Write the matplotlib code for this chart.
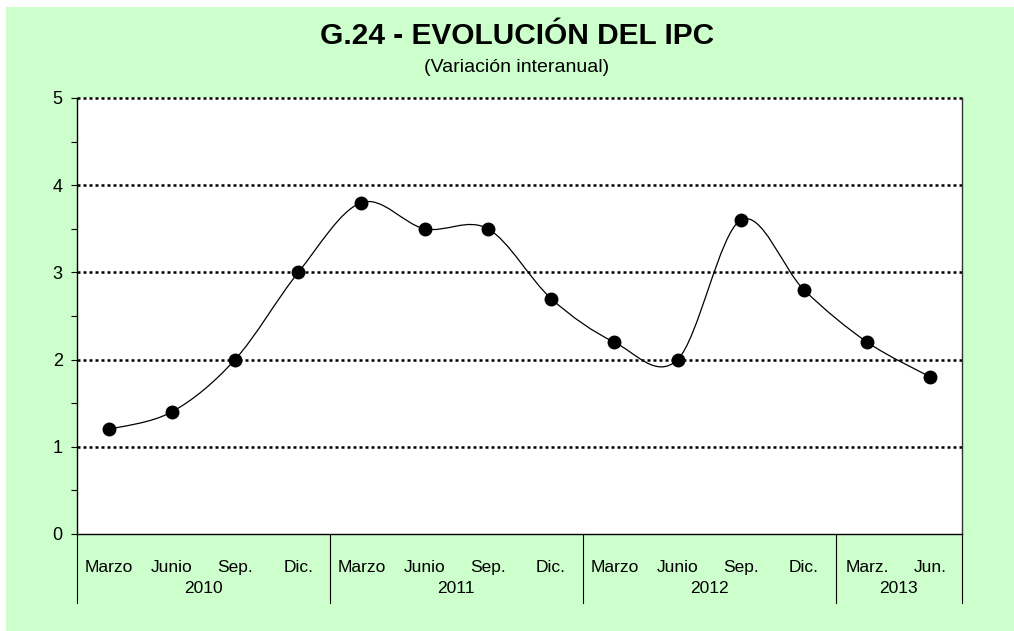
import numpy as np
import matplotlib
matplotlib.use("Agg")
import matplotlib.pyplot as plt
from matplotlib.path import Path
from matplotlib.patches import PathPatch, Rectangle
from matplotlib.transforms import blended_transform_factory

plt.rcParams['font.family'] = ['Liberation Sans', 'DejaVu Sans']

# data
quarters = ['Marzo', 'Junio', 'Sep.', 'Dic.',
            'Marzo', 'Junio', 'Sep.', 'Dic.',
            'Marzo', 'Junio', 'Sep.', 'Dic.',
            'Marz.', 'Jun.']
years = ['2010', '2011', '2012', '2013']
quarters_per_year = [4, 4, 4, 2]
ipc = [1.2, 1.4, 2.0, 3.0, 3.8, 3.5, 3.5, 2.7, 2.2, 2.0, 3.6, 2.8, 2.2, 1.8]

green = '#CCFFCC'

fig = plt.figure(figsize=(10.14, 6.31), dpi=100)
fig.patch.set_facecolor('white')
fig.patches.append(Rectangle((6 / 1014, 0), 1, 1 - 7 / 631, transform=fig.transFigure,
                             facecolor=green, edgecolor='none', zorder=-10))

ax = fig.add_axes([77 / 1014, 1 - 534 / 631, 885 / 1014, 436 / 631])
ax.set_facecolor('white')

n = len(ipc)
x = np.arange(n) + 0.5
y = np.array(ipc)

# smoothed line like Excel (bezier through the points)
pts = np.column_stack([x, y])
ext = np.vstack([pts[0], pts, pts[-1]])
verts = [tuple(pts[0])]
codes = [Path.MOVETO]
for i in range(n - 1):
    p0, p1, p2, p3 = ext[i], ext[i + 1], ext[i + 2], ext[i + 3]
    c1 = p1 + (p2 - p0) / 6
    c2 = p2 - (p3 - p1) / 6
    verts += [tuple(c1), tuple(c2), tuple(p2)]
    codes += [Path.CURVE4] * 3
ax.add_patch(PathPatch(Path(verts, codes), facecolor='none', edgecolor='black',
                       lw=0.9, zorder=3))
ax.plot(x, y, 'o', color='black', ms=9, zorder=4)

ax.set_xlim(0, n)
ax.set_ylim(0, 5)

# grid
for g in [1, 2, 3, 4, 5]:
    ax.axhline(g, color='black', lw=1.8, ls=(0, (1.2, 1.2)), zorder=2, clip_on=False)

for s in ['left', 'right', 'bottom']:
    ax.spines[s].set_color('black')
    ax.spines[s].set_linewidth(1.0)
ax.spines['top'].set_visible(False)
ax.spines['right'].set_color('#333333')

ax.set_yticks([0, 1, 2, 3, 4, 5])
ax.set_yticks(np.arange(0.5, 5, 1.0), minor=True)
ax.tick_params(axis='y', which='both', direction='out', length=4.3, width=0.8,
               labelsize=13, pad=6)
ax.set_xticks([])

# two-level category axis
trans = blended_transform_factory(ax.transData, ax.transAxes)
for xi, lab in zip(x, quarters):
    ax.text(xi, -0.0757, lab, transform=trans, ha='center', va='center', fontsize=12.5)
start = 0
bounds = [0]
for yr, cnt in zip(years, quarters_per_year):
    ax.text(start + cnt / 2, -0.126, yr, transform=trans, ha='center', va='center',
            fontsize=12.5)
    start += cnt
    bounds.append(start)
for b in bounds:
    ax.plot([b, b], [0, -69 / 436], transform=trans, color='black', lw=0.8,
            clip_on=False)

fig.text(517 / 1014, 1 - 36 / 631, 'G.24 - EVOLUCIÓN DEL IPC', ha='center',
         va='center', fontsize=21.5, fontweight='bold')
fig.text(517 / 1014, 1 - 67 / 631, '(Variación interanual)', ha='center',
         va='center', fontsize=14)

fig.savefig('out.png', dpi=100, facecolor=fig.get_facecolor())
